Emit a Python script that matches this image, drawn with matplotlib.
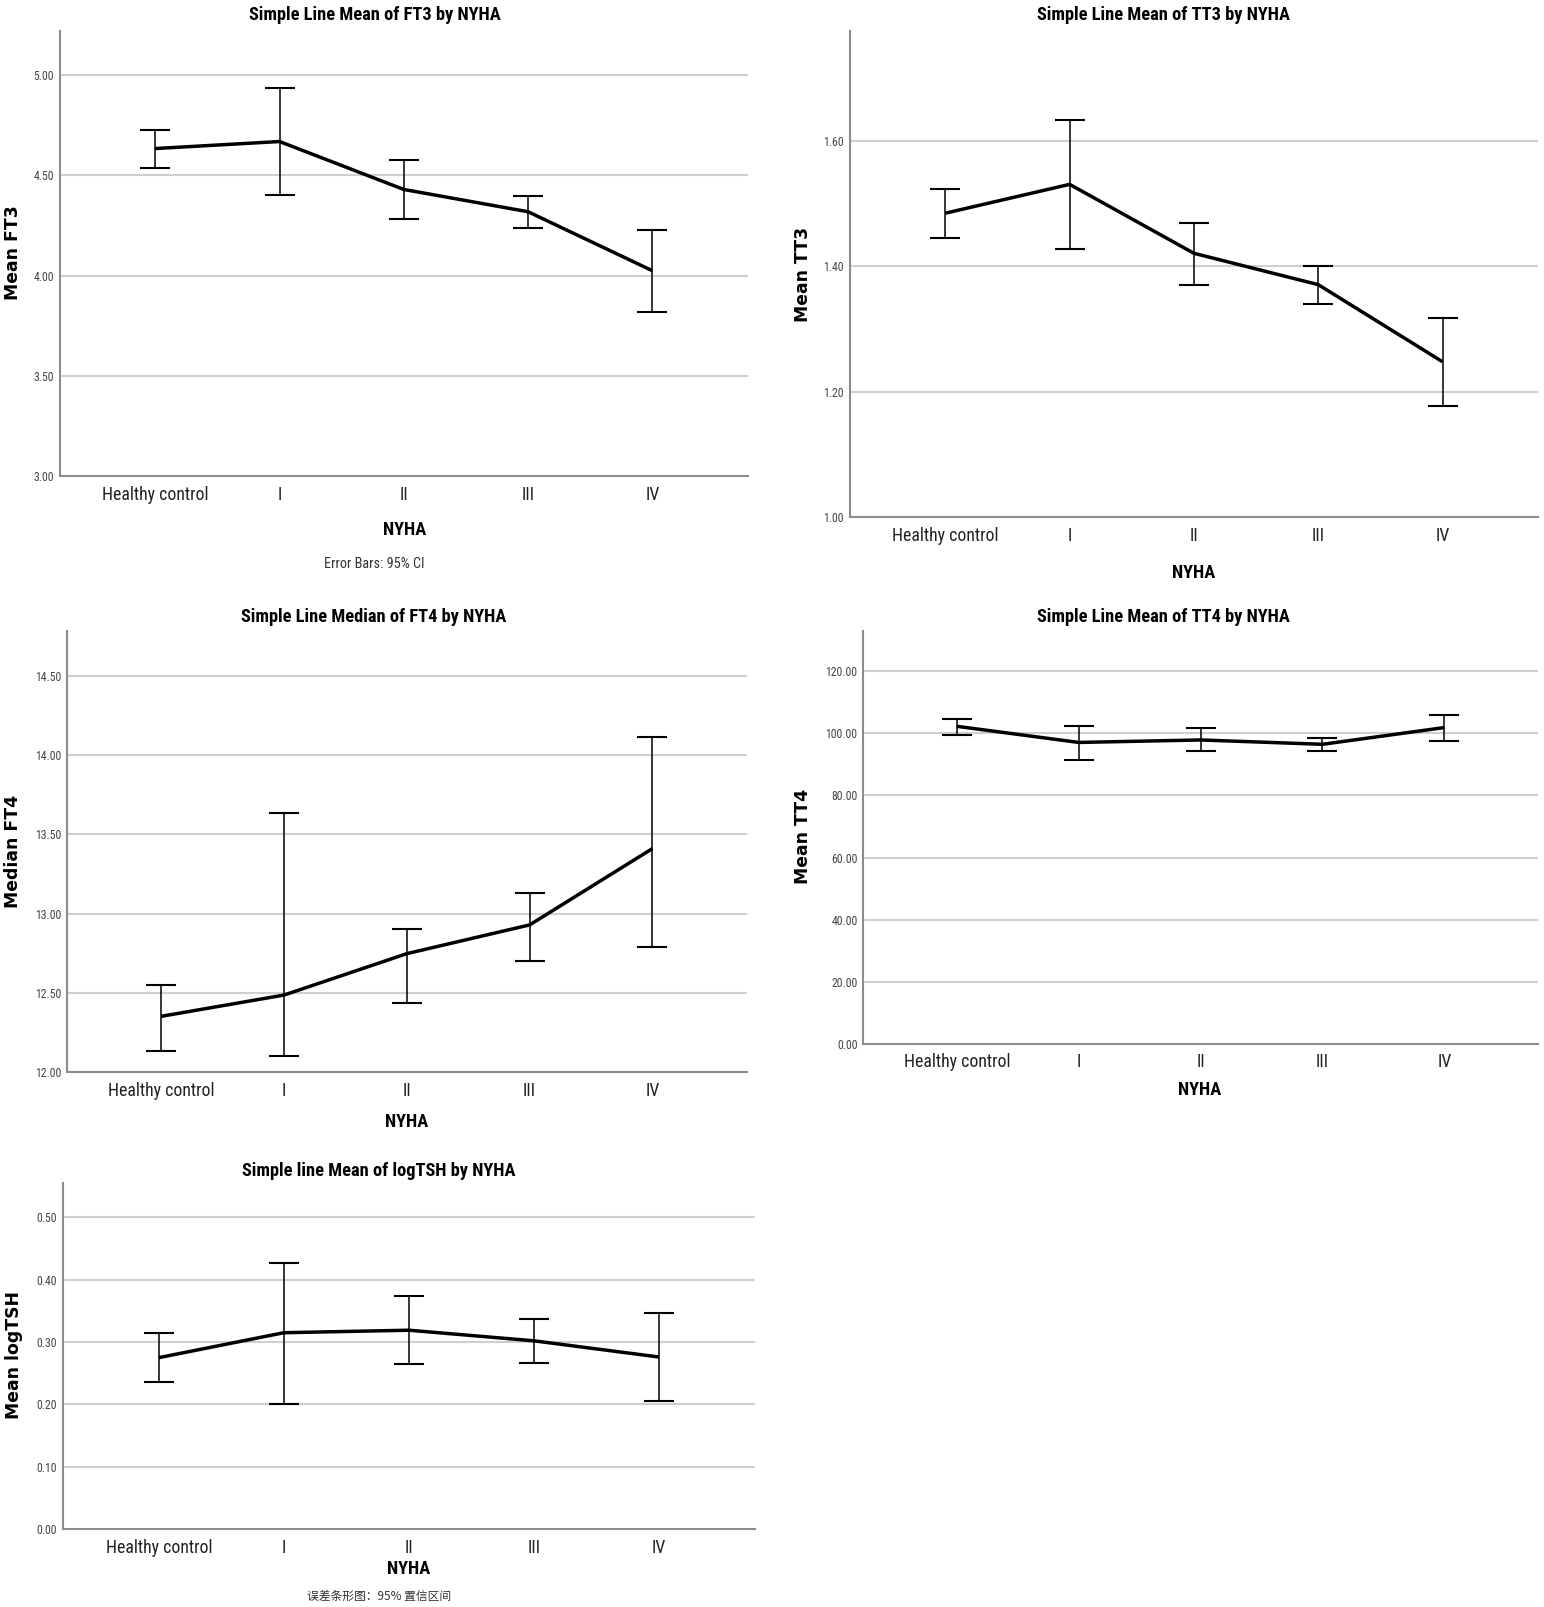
import matplotlib
matplotlib.use("Agg")
import matplotlib.pyplot as plt
import numpy as np

groups = ["Healthy control", "I", "II", "III", "IV"]

ft3_mean = [4.633, 4.668, 4.429, 4.318, 4.024]
ft3_low = [4.537, 4.402, 4.283, 4.238, 3.818]
ft3_high = [4.725, 4.935, 4.577, 4.394, 4.228]

tt3_mean = [1.485, 1.531, 1.421, 1.371, 1.248]
tt3_low = [1.445, 1.428, 1.370, 1.340, 1.178]
tt3_high = [1.523, 1.633, 1.470, 1.400, 1.317]

ft4_median = [12.353, 12.487, 12.748, 12.929, 13.410]
ft4_low = [12.132, 12.100, 12.440, 12.701, 12.791]
ft4_high = [12.551, 13.632, 12.902, 13.132, 14.111]

tt4_mean = [102.3, 97.1, 97.9, 96.5, 101.9]
tt4_low = [99.6, 91.6, 94.4, 94.2, 97.5]
tt4_high = [104.8, 102.5, 101.6, 98.6, 106.1]

tsh_mean = [0.275, 0.315, 0.319, 0.302, 0.276]
tsh_low = [0.236, 0.201, 0.264, 0.267, 0.205]
tsh_high = [0.315, 0.427, 0.374, 0.337, 0.347]

W, H = 1544, 1607
S = 1 / 0.9745  # layout below was measured on a ~1505 px wide view
fig = plt.figure(figsize=(W / 100, H / 100), dpi=100)

NARROW = dict(family=["Liberation Sans Narrow", "Roboto Condensed", "Open Sans Condensed", "DejaVu Sans"],
              fontstretch="condensed")
GRID = "#cfcfcf"
SPINE = "#8c8c8c"


def box(left, top, right, bottom):
    left, top, right, bottom = left * S, top * S, right * S, bottom * S
    return [left / W, 1 - bottom / H, (right - left) / W, (bottom - top) / H]


def put(xy, s, **kw):
    fig.text(xy[0] * S / W, 1 - xy[1] * S / H, s, ha="center", va="center", **kw)


def panel(rect, mean, low, high, ylim, yticks, title, ylabel, tpos, xpos, ypos):
    ax = fig.add_axes(box(*rect))
    x = np.arange(len(groups))
    m = np.array(mean)
    yerr = [m - np.array(low), np.array(high) - m]
    ax.errorbar(x, m, yerr=yerr, fmt="none", ecolor="black", elinewidth=1.1,
                capsize=11, capthick=1.5, zorder=3)
    ax.plot(x, m, color="black", lw=2.5, zorder=4, solid_capstyle="butt")
    ax.set_xlim(-0.77, 4.77)
    ax.set_ylim(*ylim)
    ax.set_yticks(yticks)
    ax.set_yticklabels([f"{v:.2f}" for v in yticks], fontsize=8.5, color="#444444", **NARROW)
    ax.set_xticks(x)
    ax.set_xticklabels(groups, fontsize=12.8, color="#222222", **NARROW)
    ax.tick_params(axis="both", length=0)
    ax.tick_params(axis="x", pad=7)
    ax.tick_params(axis="y", pad=4)
    for t in yticks:
        if t > ylim[0]:
            ax.axhline(t, color=GRID, lw=1.5, zorder=1)
    for s in ["top", "right"]:
        ax.spines[s].set_visible(False)
    for s in ["left", "bottom"]:
        ax.spines[s].set_color(SPINE)
        ax.spines[s].set_linewidth(1.5)
    put(tpos, title, fontweight="bold", fontsize=13.2, **NARROW)
    put(xpos, "NYHA", fontweight="bold", fontsize=13.2, **NARROW)
    put(ypos, ylabel, rotation=90, family="DejaVu Sans", fontweight="bold", fontsize=12.4)
    return ax


panel((58, 30, 729, 464), ft3_mean, ft3_low, ft3_high, (3.0, 5.22),
      [3.0, 3.5, 4.0, 4.5, 5.0], "Simple Line Mean of FT3 by NYHA", "Mean FT3",
      (365, 15), (394, 516), (13, 246))
panel((828, 30, 1499, 504), tt3_mean, tt3_low, tt3_high, (1.0, 1.776),
      [1.0, 1.2, 1.4, 1.6], "Simple Line Mean of TT3 by NYHA", "Mean TT3",
      (1134, 15), (1163, 558), (783, 267))
panel((65, 615, 728, 1045), ft4_median, ft4_low, ft4_high, (12.0, 14.78),
      [12.0, 12.5, 13.0, 13.5, 14.0, 14.5], "Simple Line Median of FT4 by NYHA", "Median FT4",
      (364, 601), (396, 1093), (13, 830))
panel((841, 615, 1499, 1017), tt4_mean, tt4_low, tt4_high, (0, 133),
      [0, 20, 40, 60, 80, 100, 120], "Simple Line Mean of TT4 by NYHA", "Mean TT4",
      (1134, 601), (1169, 1062), (783, 815))
panel((61, 1153, 736, 1490), tsh_mean, tsh_low, tsh_high, (0, 0.555),
      [0.0, 0.1, 0.2, 0.3, 0.4, 0.5], "Simple line Mean of logTSH by NYHA", "Mean logTSH",
      (369, 1141), (398, 1529), (14, 1320))

put((365, 550), "Error Bars: 95% CI", fontsize=10.3, color="#333333", **NARROW)
put((369, 1556), "误差条形图：95% 置信区间", family=["Noto Sans CJK SC", "DejaVu Sans"],
    fontsize=8.5, color="#333333")

fig.savefig("out.png", dpi=100)
